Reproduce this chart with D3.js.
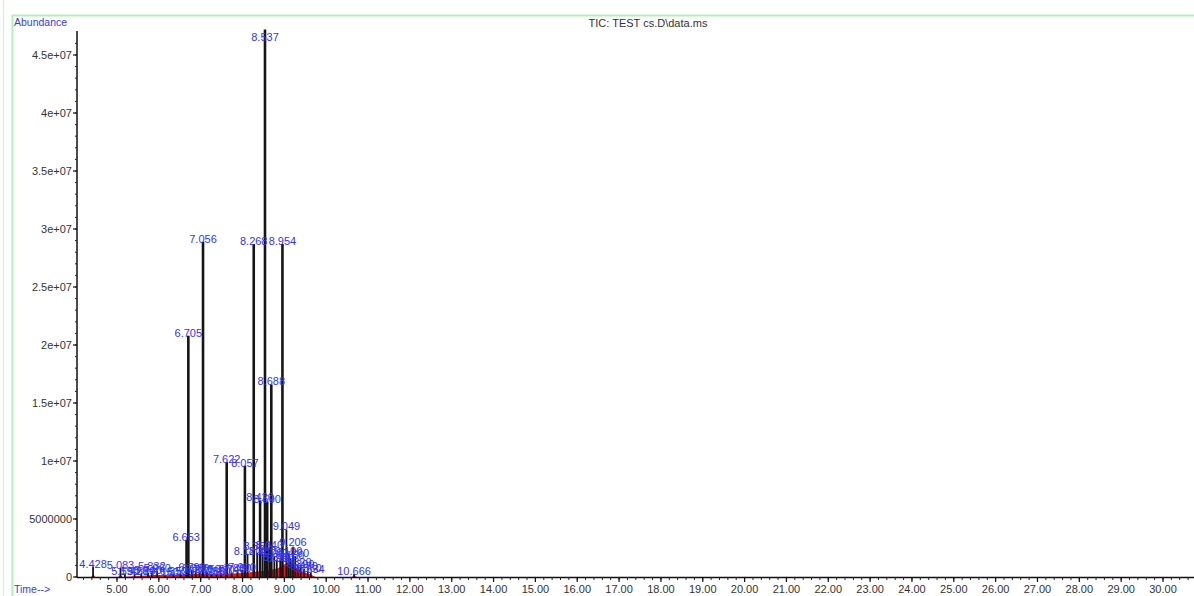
<!DOCTYPE html>
<html>
<head>
<meta charset="utf-8">
<script src="https://cdn.jsdelivr.net/npm/d3@7"></script>
<style>
  body { margin: 0; background: #fff; }
  svg { display: block; font-family: Arial, "Liberation Sans", sans-serif; }
</style>
</head>
<body>
<script>
// peak retention times (min), heights (abundance)
var peakTimes = [4.428, 5.083, 5.190, 5.420, 5.580, 5.740, 5.832, 5.960, 6.150, 6.350, 6.520,
    6.653, 6.705, 6.790, 6.880, 6.970, 7.056, 7.150, 7.260, 7.380, 7.480, 7.622, 7.740,
    7.880, 7.990, 8.057, 8.120, 8.268, 8.350, 8.420, 8.480, 8.537, 8.590, 8.640, 8.688,
    8.760, 8.820, 8.900, 8.954, 9.049, 9.100, 9.150, 9.206, 9.260, 9.320, 9.390, 9.470,
    9.560, 9.634, 10.666];
var peakHeights = [0.9e6, 0.8e6, 0.3e6, 0.25e6, 0.3e6, 0.35e6, 0.4e6, 0.5e6, 0.2e6, 0.25e6, 0.3e6,
    3.2e6, 2.08e7, 0.6e6, 0.5e6, 0.4e6, 2.89e7, 0.4e6, 0.3e6, 0.3e6, 0.35e6, 9.9e6, 0.4e6,
    0.5e6, 0.6e6, 9.6e6, 2.0e6, 2.87e7, 2.1e6, 6.6e6, 2.0e6, 4.72e7, 6.5e6, 2.5e6, 1.66e7,
    1.8e6, 1.5e6, 1.4e6, 2.87e7, 4.1e6, 2.0e6, 1.6e6, 2.6e6, 1.8e6, 1.0e6, 0.9e6, 0.7e6,
    0.5e6, 0.4e6, 0.25e6];
// label offsets for the few peaks whose labels sit higher than the peak top
var labelLift = {"5.832": 0.25e6, "8.350": 0.3e6, "9.206": 0.2e6};

// red integrated baseline region
var baseTimes = [4.04, 4.38, 4.43, 4.48, 5.03, 5.08, 5.13, 5.70, 5.90, 6.40, 6.70, 7.00, 7.50,
    8.00, 8.30, 8.60, 8.85, 9.00, 9.10, 9.20, 9.30, 9.45, 9.60, 9.75, 10.60, 10.67, 10.74, 30.65];
var baseValues = [0, 0, 0.25e6, 0, 0, 0.2e6, 0, 0.12e6, 0.18e6, 0.15e6, 0.25e6, 0.3e6, 0.25e6,
    0.35e6, 0.45e6, 0.55e6, 0.75e6, 1.1e6, 1.25e6, 1.15e6, 0.75e6, 0.4e6, 0.25e6, 0, 0, 0.08e6, 0, 0];

var xTicks = d3.range(5, 31);
var yTicks = [0, 5e6, 1e7, 1.5e7, 2e7, 2.5e7, 3e7, 3.5e7, 4e7, 4.5e7];
var yTickLabels = ["0", "5000000", "1e+07", "1.5e+07", "2e+07", "2.5e+07", "3e+07", "3.5e+07", "4e+07", "4.5e+07"];

var w = 1194, h = 596;
var x0 = 77, x1 = 1194, yBase = 577;

var x = d3.scaleLinear().domain([5, 30]).range([117, 1163]);
var y = d3.scaleLinear().domain([0, 4.5e7]).range([yBase, 55]);

var svg = d3.select("body").append("svg").attr("width", w).attr("height", h);

// green frame
svg.append("line").attr("x1", 12).attr("x2", w).attr("y1", 15.5).attr("y2", 15.5)
    .attr("stroke", "#b6efb6").attr("stroke-width", 2);
svg.append("line").attr("x1", 12.5).attr("x2", 12.5).attr("y1", 15).attr("y2", h)
    .attr("stroke", "#b6efb6").attr("stroke-width", 2);
svg.append("line").attr("x1", 3.5).attr("x2", 3.5).attr("y1", 0).attr("y2", h)
    .attr("stroke", "#e4e4e4").attr("stroke-width", 1);

svg.append("text").attr("x", 14).attr("y", 26).attr("font-size", 10.5)
    .attr("fill", "#3b3bdc").text("Abundance");
svg.append("text").attr("x", 648).attr("y", 27).attr("font-size", 11)
    .attr("text-anchor", "middle").attr("fill", "#333").text("TIC: TEST cs.D\\data.ms");
svg.append("text").attr("x", 14).attr("y", 593).attr("font-size", 10.5)
    .attr("fill", "#3b3bdc").text("Time-->");

// red integration area
var area = d3.area()
    .x(function (d, i) { return x(baseTimes[i]); })
    .y0(yBase)
    .y1(function (d) { return y(d); });
svg.append("path").datum(baseValues).attr("d", area).attr("fill", "#f01414");

// peaks
var peaks = peakTimes.map(function (t, i) { return {t: t, v: peakHeights[i]}; });
svg.selectAll("line.peak")
    .data(peaks)
    .enter()
    .append("line")
    .attr("class", "peak")
    .attr("x1", function (d) { return x(d.t); })
    .attr("x2", function (d) { return x(d.t); })
    .attr("y1", yBase)
    .attr("y2", function (d) { return y(d.v); })
    .attr("stroke", "#151515")
    .attr("stroke-width", function (d) { return d.v > 5e6 ? 2.6 : 1.8; });

// peak labels
svg.selectAll("text.plabel")
    .data(peaks)
    .enter()
    .append("text")
    .attr("class", "plabel")
    .attr("x", function (d) { return x(d.t); })
    .attr("y", function (d) {
        var lift = labelLift[d.t.toFixed(3)] || 0;
        return Math.max(y(d.v + lift) + 1, 41);
    })
    .attr("text-anchor", "middle")
    .attr("font-size", 11)
    .attr("fill", "#3434ec")
    .text(function (d) { return d.t.toFixed(3); });

// y axis
var yAxis = svg.append("g").attr("transform", "translate(" + x0 + ",0)");
yAxis.append("line").attr("x1", 0).attr("x2", 0).attr("y1", 31).attr("y2", yBase)
    .attr("stroke", "#111").attr("stroke-width", 1.5);
yAxis.selectAll("line.minor")
    .data(d3.range(0, 4.7e7, 1e6))
    .enter()
    .append("line")
    .attr("x1", -2).attr("x2", 0)
    .attr("y1", function (d) { return y(d); })
    .attr("y2", function (d) { return y(d); })
    .attr("stroke", "#222");
yAxis.selectAll("line.major")
    .data(yTicks)
    .enter()
    .append("line")
    .attr("x1", -4).attr("x2", 0)
    .attr("y1", function (d) { return y(d); })
    .attr("y2", function (d) { return y(d); })
    .attr("stroke", "#111").attr("stroke-width", 1.2);
yAxis.selectAll("text")
    .data(yTicks)
    .enter()
    .append("text")
    .attr("x", -5)
    .attr("y", function (d) { return y(d) + 4; })
    .attr("text-anchor", "end")
    .attr("font-size", 11)
    .attr("fill", "#333")
    .text(function (d, i) { return yTickLabels[i]; });

// x axis
var xAxis = svg.append("g").attr("transform", "translate(0," + yBase + ")");
xAxis.append("line").attr("x1", x0).attr("x2", x1).attr("y1", 0.5).attr("y2", 0.5)
    .attr("stroke", "#111").attr("stroke-width", 1.5);
xAxis.selectAll("line.minor")
    .data(d3.range(4.2, 30.7, 0.2))
    .enter()
    .append("line")
    .attr("x1", function (d) { return x(d); })
    .attr("x2", function (d) { return x(d); })
    .attr("y1", 0).attr("y2", 3)
    .attr("stroke", "#222");
xAxis.selectAll("line.major")
    .data(xTicks)
    .enter()
    .append("line")
    .attr("x1", function (d) { return x(d); })
    .attr("x2", function (d) { return x(d); })
    .attr("y1", 0).attr("y2", 5)
    .attr("stroke", "#111").attr("stroke-width", 1.2);
xAxis.selectAll("text")
    .data(xTicks)
    .enter()
    .append("text")
    .attr("x", function (d) { return x(d); })
    .attr("y", 16)
    .attr("text-anchor", "middle")
    .attr("font-size", 11)
    .attr("fill", "#333")
    .text(function (d) { return d3.format(".2f")(d); });
</script>
</body>
</html>
